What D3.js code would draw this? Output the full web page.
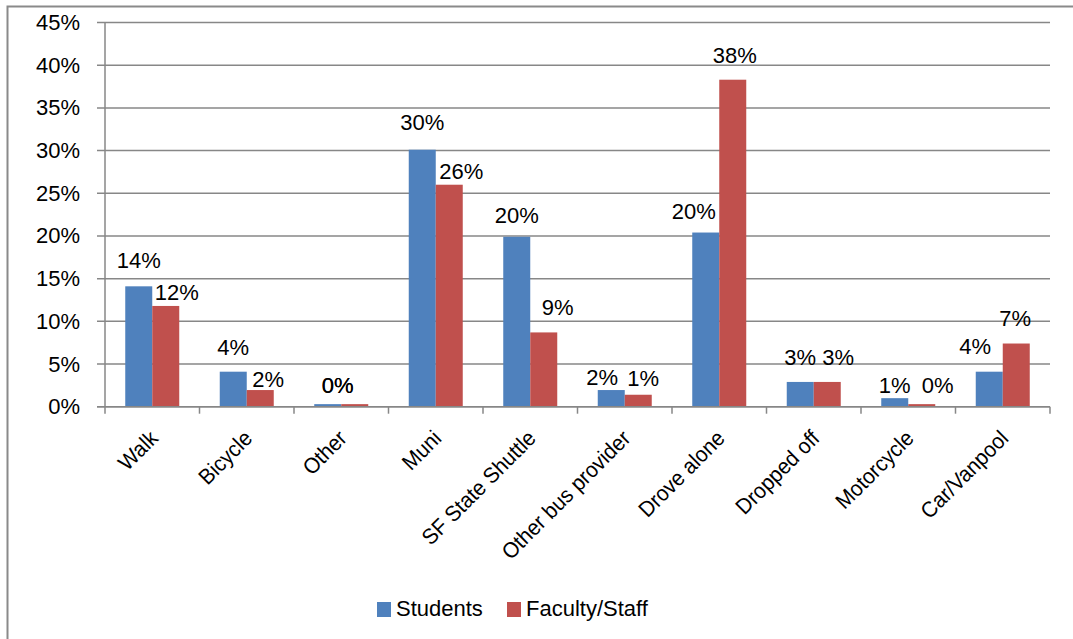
<!DOCTYPE html>
<html>
<head>
<meta charset="utf-8">
<script src="https://cdn.jsdelivr.net/npm/d3@7"></script>
<style>
  body { margin: 0; background: #fff; }
  text { font-family: "Liberation Sans Narrow", "Arial Narrow", "Liberation Sans", sans-serif; fill: #000; }
</style>
</head>
<body>
<svg id="chart" width="1073" height="639"></svg>
<script>
const categories = ['Walk', 'Bicycle', 'Other', 'Muni', 'SF State Shuttle', 'Other bus provider',
  'Drove alone', 'Dropped off', 'Motorcycle', 'Car/Vanpool']
const students = [14.1, 4.1, 0.3, 30.1, 19.9, 1.95, 20.4, 2.9, 1.0, 4.1]
const faculty = [11.8, 1.95, 0.3, 26.0, 8.7, 1.4, 38.3, 2.9, 0.3, 7.4]
const seriesNames = ['Students', 'Faculty/Staff']
const yTicks = [0, 5, 10, 15, 20, 25, 30, 35, 40, 45]

// label nudges [dx, dy] so labels sit where the original has them
const studentNudge = [[0, -1], [0, 0], [10, 6], [0, -3], [0, 3], [-9, 12], [-12, 3], [0, 0], [0, 12], [-14, -1]]
const facultyNudge = [[11, 11], [8, 14], [-17, 6], [12, 11], [14, 0], [5, 8], [2, 0], [11, 0], [16, 6], [-1, -1]]

const colors = ['#4F81BD', '#C0504D']
const svg = d3.select('#chart')
const plotL = 105, plotR = 1050, plotT = 22.5, plotB = 406.7

// outer frame
svg.append('rect')
  .attr('x', 7.5).attr('y', 6.5)
  .attr('width', 1080).attr('height', 650)
  .attr('fill', 'none').attr('stroke', '#8a8a8a').attr('stroke-width', 2)

const x = d3.scaleBand().domain(categories).range([plotL, plotR]).paddingInner(0).paddingOuter(0)
const x1 = d3.scaleBand().domain(seriesNames).range([0, x.bandwidth()]).paddingInner(0).paddingOuter(0.75)
const y = d3.scaleLinear().domain([0, 45]).range([plotB, plotT])

// gridlines + y ticks
svg.append('g')
  .selectAll('line')
  .data(yTicks)
  .enter()
  .append('line')
  .attr('x1', plotL - 8).attr('x2', plotR)
  .attr('y1', d => y(d)).attr('y2', d => y(d))
  .attr('stroke', '#878787').attr('stroke-width', 1.5)

svg.append('g')
  .selectAll('text')
  .data(yTicks)
  .enter()
  .append('text')
  .attr('x', 80)
  .attr('y', d => y(d) + 7.5)
  .attr('text-anchor', 'end')
  .attr('font-size', 22)
  .text(d => d + '%')

// y axis line
svg.append('line')
  .attr('x1', plotL).attr('x2', plotL)
  .attr('y1', plotT).attr('y2', plotB)
  .attr('stroke', '#878787').attr('stroke-width', 1.5)

// x axis ticks
const xTicks = d3.range(categories.length + 1).map(i => plotL + i * x.bandwidth())
svg.append('g')
  .selectAll('line')
  .data(xTicks)
  .enter()
  .append('line')
  .attr('x1', d => d).attr('x2', d => d)
  .attr('y1', plotB).attr('y2', plotB + 7)
  .attr('stroke', '#878787').attr('stroke-width', 1.5)

// bars
const rows = categories.map((c, i) => ({
  cat: c,
  vals: [
    { s: seriesNames[0], v: students[i], n: studentNudge[i], c: colors[0] },
    { s: seriesNames[1], v: faculty[i], n: facultyNudge[i], c: colors[1] }
  ]
}))

const groups = svg.append('g')
  .selectAll('g')
  .data(rows)
  .enter()
  .append('g')
  .attr('transform', d => `translate(${x(d.cat)},0)`)

groups.selectAll('rect')
  .data(d => d.vals)
  .enter()
  .append('rect')
  .attr('x', d => x1(d.s))
  .attr('width', x1.bandwidth())
  .attr('y', d => y(d.v))
  .attr('height', d => y(0) - y(d.v))
  .attr('fill', d => d.c)

// bottom axis line over the bars
svg.append('line')
  .attr('x1', plotL - 8).attr('x2', plotR)
  .attr('y1', plotB).attr('y2', plotB)
  .attr('stroke', '#878787').attr('stroke-width', 1.5)

groups.selectAll('text')
  .data(d => d.vals)
  .enter()
  .append('text')
  .attr('x', d => x1(d.s) + x1.bandwidth() / 2 + d.n[0])
  .attr('y', d => y(d.v) - 17 + d.n[1])
  .attr('text-anchor', 'middle')
  .attr('font-size', 22)
  .text(d => Math.round(d.v) + '%')

// category labels, rotated
svg.append('g')
  .selectAll('text')
  .data(categories)
  .enter()
  .append('text')
  .attr('transform', d => `translate(${x(d) + x.bandwidth() / 2 + 7},${plotB + 33}) rotate(-45) scale(0.94,1)`)
  .attr('text-anchor', 'end')
  .attr('font-size', 22)
  .text(d => d)

// legend
const legend = svg.append('g')
  .selectAll('g')
  .data(seriesNames)
  .enter()
  .append('g')
  .attr('transform', (d, i) => `translate(${377 + i * 130},602)`)

legend.append('rect')
  .attr('width', 14).attr('height', 15)
  .attr('fill', (d, i) => colors[i])

legend.append('text')
  .attr('x', 19).attr('y', 14)
  .attr('font-size', 22)
  .text(d => d)
</script>
</body>
</html>
